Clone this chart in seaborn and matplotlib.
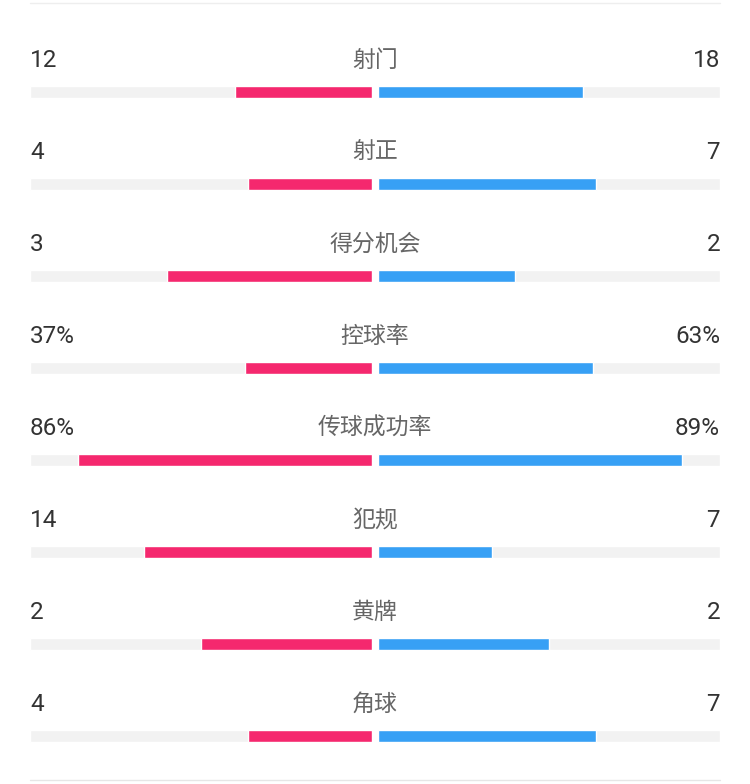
import numpy as np
import pandas as pd
import matplotlib
import matplotlib.pyplot as plt
import seaborn as sns

matplotlib.use('Agg')

# Données
labels = ['射门', '射正', '得分机会', '控球率', '传球成功率', '犯规', '黄牌', '角球']
home = [12, 4, 3, 37, 86, 14, 2, 4]
away = [18, 7, 2, 63, 89, 7, 2, 7]
home_txt = ['12', '4', '3', '37%', '86%', '14', '2', '4']
away_txt = ['18', '7', '2', '63%', '89%', '7', '2', '7']
is_pct = [False, False, False, True, True, False, False, False]

# Fractions des barres
home_frac, away_frac = [], []
for h, a, p in zip(home, away, is_pct):
    if p:
        home_frac.append(h / 100)
        away_frac.append(a / 100)
    else:
        home_frac.append(h / (h + a))
        away_frac.append(a / (h + a))

df = pd.DataFrame({'stat': labels, 'home': home_frac, 'away': away_frac, 'full': 1.0})

sns.set_theme(style="white")
plt.rcParams['font.family'] = ['Noto Sans CJK SC', 'DejaVu Sans']

W, H = 750, 784
fig = plt.figure(figsize=(W / 100, H / 100), dpi=100)

# échelle verticale : centre de la barre i au pixel 92 + 92*i
step = 92.05
y0 = 92
top_px = y0 - 0.5 * step
bot_px = y0 + 7.5 * step


def make_ax(x_left, x_right):
    ax = fig.add_axes([x_left / W, 1 - bot_px / H, (x_right - x_left) / W, (bot_px - top_px) / H])
    ax.set_ylim(7.5, -0.5)
    ax.axis('off')
    return ax


bar_h = 12 / step

ax_l = make_ax(30, 372)
sns.barplot(data=df, y='stat', x='full', color='#f2f2f2', width=bar_h, ax=ax_l, orient='h')
sns.barplot(data=df, y='stat', x='home', color='#f5286e', width=bar_h, ax=ax_l, orient='h', saturation=1)
ax_l.set_xlim(1, 0)
ax_l.set_ylim(7.5, -0.5)
ax_l.axis('off')

ax_r = make_ax(378, 720)
sns.barplot(data=df, y='stat', x='full', color='#f2f2f2', width=bar_h, ax=ax_r, orient='h')
sns.barplot(data=df, y='stat', x='away', color='#37a0f5', width=bar_h, ax=ax_r, orient='h', saturation=1)
ax_r.set_xlim(0, 1)
ax_r.set_ylim(7.5, -0.5)
ax_r.axis('off')

# Textes
ax_t = fig.add_axes([0, 0, 1, 1])
ax_t.set_xlim(0, W)
ax_t.set_ylim(H, 0)
ax_t.axis('off')
ax_t.patch.set_alpha(0)

for i, lab in enumerate(labels):
    ty = y0 + i * step - 32
    ax_t.text(30, ty, home_txt[i], ha='left', va='center', fontsize=17.5, color='#333333',
              family=['Roboto', 'DejaVu Sans'])
    ax_t.text(720, ty, away_txt[i], ha='right', va='center', fontsize=17.5, color='#333333',
              family=['Roboto', 'DejaVu Sans'])
    ax_t.text(375, ty, lab, ha='center', va='center', fontsize=16.5, color='#666666')

ax_t.plot([30, 720], [3, 3], color='#eeeeee', lw=1)
ax_t.plot([30, 720], [780, 780], color='#e6e6e6', lw=1)

fig.savefig("out.png", dpi=100)
